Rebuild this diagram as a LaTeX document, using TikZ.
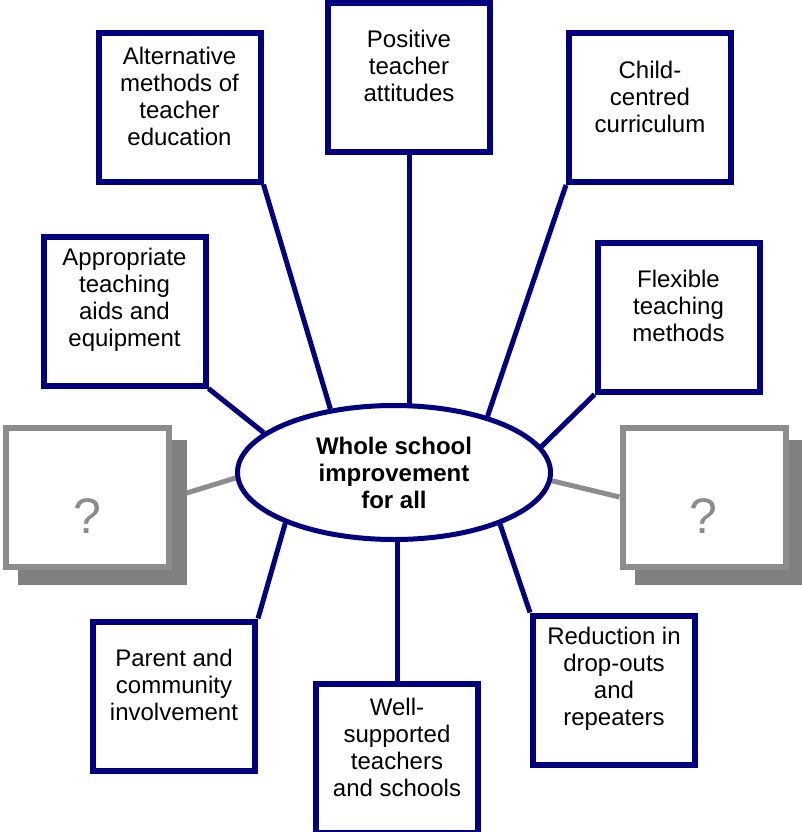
\documentclass[tikz,border=0pt]{standalone}
\usepackage{fontspec}
\setmainfont{Liberation Sans}
\usetikzlibrary{shapes.geometric,backgrounds}
\definecolor{navy}{RGB}{0,0,128}
\definecolor{qborder}{RGB}{140,140,140}
\definecolor{qshadow}{RGB}{128,128,128}
\begin{document}
\begin{tikzpicture}[x=0.75pt,y=-0.75pt,
  box/.style={draw=navy,line width=4.5pt,fill=white,minimum width=121.5pt,minimum height=111.75pt,inner sep=0pt},
  qbox/.style={draw=qborder,line width=4.5pt,fill=white,minimum width=122.25pt,minimum height=104.25pt,inner sep=0pt},
  txt/.style={align=center,font=\fontsize{18pt}{20.25pt}\selectfont,inner sep=0pt,text=black},
  qtxt/.style={font=\fontsize{37.5pt}{40pt}\selectfont,inner sep=0pt,text=qborder},
  conn/.style={draw=navy,line width=3.75pt},
  gconn/.style={draw=qborder,line width=3.75pt},
  shadowfill/.style={fill=qshadow}
]
\useasboundingbox (0,0) rectangle (802,832);

% boxes
\node[box] (alt) at (179.5,107) {};
\node[box] (pos) at (409,77) {};
\node[box] (child) at (650,107.5) {};
\node[box] (app) at (124.5,311) {};
\node[box] (flex) at (678.5,317) {};
\node[box] (par) at (174,696) {};
\node[box] (well) at (397,758.5) {};
\node[box] (red) at (614,690) {};
\node[qbox] (q1) at (87.5,497.5) {};
\node[qbox] (q2) at (704,497) {};

% texts
\node[txt] (alt-t) at (179.5,96) {Alternative\\methods of\\teacher\\education};
\node[txt] (pos-t) at (409,66) {Positive\\teacher\\attitudes};
\node[txt] (child-t) at (650,96.5) {Child-\\centred\\curriculum};
\node[txt] (app-t) at (124.5,300) {Appropriate\\teaching\\aids and\\equipment};
\node[txt] (flex-t) at (678.5,306) {Flexible\\teaching\\methods};
\node[txt] (par-t) at (174,685) {Parent and\\community\\involvement};
\node[txt] (well-t) at (397,747.5) {Well-\\supported\\teachers\\and schools};
\node[txt] (red-t) at (614,679) {Reduction in\\drop-outs\\and\\repeaters};
\node[qtxt] (q1-t) at (87.5,516) {?};
\node[qtxt] (q2-t) at (703,516) {?};

% centre
\node[ellipse,draw=navy,line width=3.75pt,fill=white,minimum width=234.75pt,minimum height=100.5pt,inner sep=0pt,align=center,font=\bfseries\fontsize{18pt}{20.25pt}\selectfont] (c) at (394,472.5) {Whole school\\improvement\\for all};

\begin{scope}[on background layer]
  \draw[conn] (alt.south east) -- (c.135.2);
  \draw[conn] (pos.south) -- (pos.south |- c.center);
  \draw[conn] (child.south west) -- (c.31.2);
  \draw[conn] (app.south east) -- (c.163);
  \draw[conn] (flex.south west) -- (c.10.7);
  \draw[conn] (par.north east) -- (c.205.3);
  \draw[conn] (well.north) -- (well.north |- c.center);
  \draw[conn] (red.north west) -- (c.-26.3);
  \draw[gconn] (q1.east) -- (c.182.7);
  \draw[gconn] (q2.west) -- (c.-3.1);
  \fill[shadowfill] ([shift={(15,15)}]q1.north west) rectangle ([shift={(15,15)}]q1.south east);
  \fill[shadowfill] ([shift={(15,15)}]q2.north west) rectangle ([shift={(15,15)}]q2.south east);
\end{scope}
\end{tikzpicture}
\end{document}
